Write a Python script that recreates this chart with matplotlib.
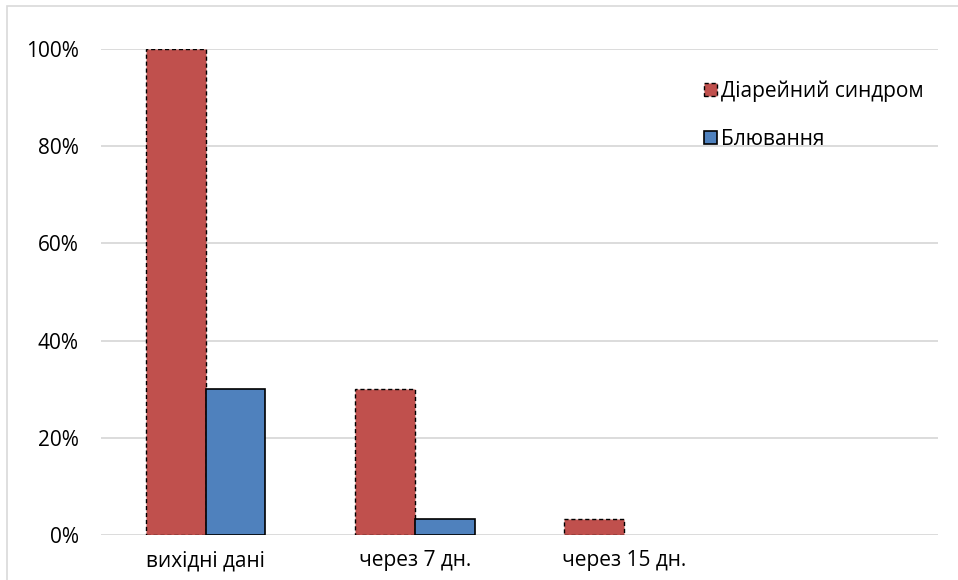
import numpy as np
import matplotlib.pyplot as plt
from matplotlib.patches import Rectangle

plt.rcParams['font.family'] = ['Open Sans', 'DejaVu Sans']

#### data ####
categories = ['вихідні дані', 'через 7 дн.', 'через 15 дн.']
diarrhea = [1.00, 0.30, 0.033]
vomiting = [0.30, 0.033, np.nan]
n_slots = 4  # axis keeps room for one more period
yticks = [0, 0.2, 0.4, 0.6, 0.8, 1.0]
ytick_labels = ['0%', '20%', '40%', '60%', '80%', '100%']
########################################

W, H = 958, 580
fig = plt.figure(figsize=(W / 100, H / 100), dpi=100)

# outer chart frame
fig.patches.append(Rectangle((7 / W, -0.1), 1.2, 1 - 6 / H + 0.1,
                             transform=fig.transFigure, fill=False,
                             edgecolor='#D9D9D9', linewidth=1.2))

ax = fig.add_axes([101 / W, 45 / H, (938 - 101) / W, (535 - 49) / H])

x = np.arange(len(categories))
width = 1 / 3.5  # gap width 150%

ax.bar(x - width / 2, diarrhea, width, color='#C0504D', edgecolor='black',
       linewidth=1.0, linestyle=(0, (3, 2)), label='Діарейний синдром', zorder=3)
blue_x = [xi for xi, v in zip(x, vomiting) if not np.isnan(v)]
blue_v = [v for v in vomiting if not np.isnan(v)]
ax.bar(np.array(blue_x) + width / 2, blue_v, width, color='#4F81BD',
       edgecolor='black', linewidth=1.2, label='Блювання', zorder=3)

ax.set_xlim(-0.5, n_slots - 0.5)
ax.set_ylim(0, 1.0)
ax.set_yticks(yticks)
ax.set_yticklabels(ytick_labels)
ax.set_xticks(x)
ax.set_xticklabels(categories)
ax.tick_params(axis='both', length=0, labelsize=15, colors='black')
ax.tick_params(axis='y', pad=16)
ax.tick_params(axis='x', pad=11)
ax.grid(axis='y', color='#D9D9D9', linewidth=1.3, zorder=0)
ax.set_axisbelow(True)
for s in ax.spines.values():
    s.set_visible(False)

fig.legend(loc='upper left', bbox_to_anchor=(696 / W, 1 - 72 / H),
           frameon=False, fontsize=15, handlelength=0.6, handleheight=0.6,
           handletextpad=0.2, labelspacing=1.3, borderaxespad=0)

plt.savefig('out.png', dpi=100)
